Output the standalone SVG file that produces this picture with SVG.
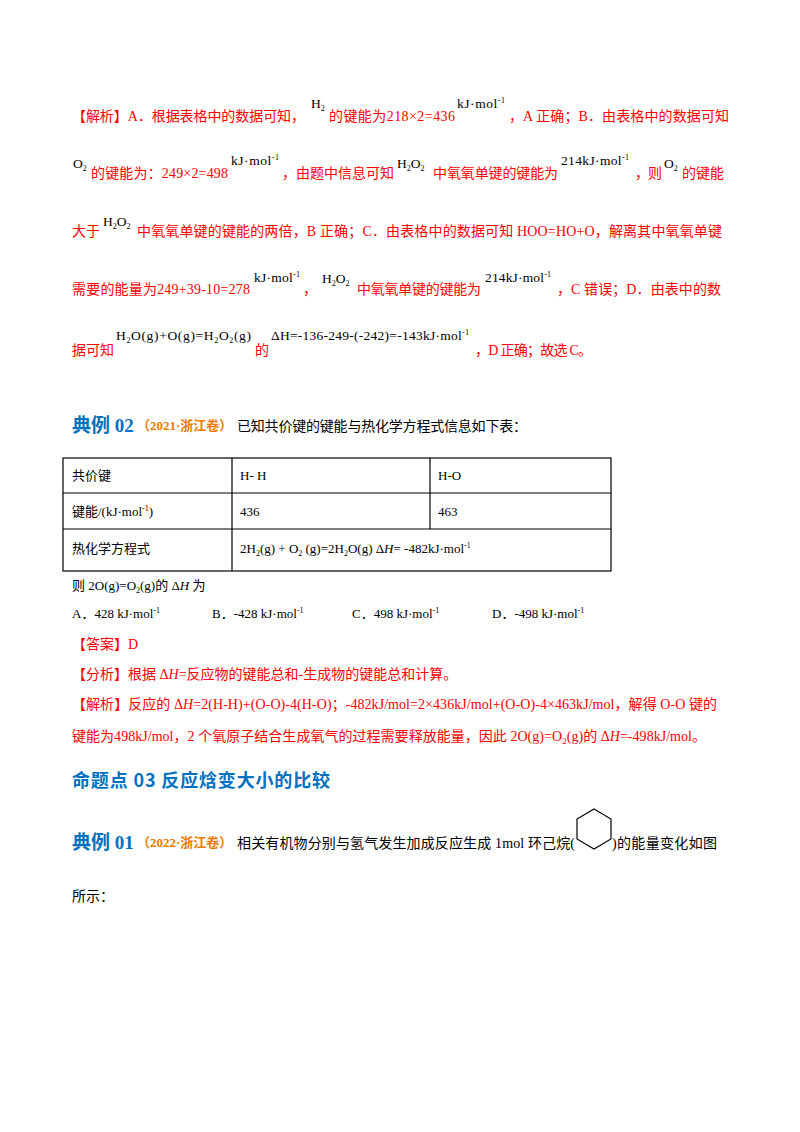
<svg xmlns="http://www.w3.org/2000/svg" width="800" height="1132" viewBox="0 0 800 1132">
<style>
text{font-family:"Liberation Serif","Noto Sans CJK SC",serif;font-size:14px;fill:#000}
.r{fill:#ff0000}
.s{font-size:13.5px}
.b{fill:#0070c0;font-weight:bold;font-size:19px}
.o{fill:#f07800;font-weight:bold;font-size:13px}
.m{font-size:13px}
.h{font-family:"Noto Sans CJK SC",sans-serif;font-size:18px;font-weight:bold;fill:#0070c0}
.t{fill:none;stroke:#000;stroke-width:1.2}
</style>
<rect width="800" height="1132" fill="#fff"/>
<g id="analysis1">
<text class="r" x="72" y="121" textLength="233">【解析】A．根据表格中的数据可知，</text>
<text x="311" y="108" class="s">H<tspan dy="3" font-size="8">2</tspan></text>
<text class="r" x="329" y="121" textLength="126">的键能为218×2=436</text>
<text x="457" y="108" class="s" textLength="48">kJ·mol<tspan dy="-5" font-size="8">-1</tspan></text>
<text class="r" x="509" y="121" textLength="220">，A 正确；B．由表格中的数据可知</text>
<text x="73" y="168" class="s">O<tspan dy="3" font-size="8">2</tspan></text>
<text class="r" x="91" y="178" textLength="137">的键能为：249×2=498</text>
<text x="231" y="165" class="s" textLength="48">kJ·mol<tspan dy="-5" font-size="8">-1</tspan></text>
<text class="r" x="282" y="178" textLength="112">，由题中信息可知</text>
<text x="397" y="168" class="s">H<tspan dy="3" font-size="8">2</tspan><tspan dy="-3">O</tspan><tspan dy="3" font-size="8">2</tspan></text>
<text class="r" x="433" y="178" textLength="125">中氧氧单键的键能为</text>
<text x="561" y="165" class="s" textLength="68">214kJ·mol<tspan dy="-5" font-size="8">-1</tspan></text>
<text class="r" x="635" y="178" textLength="27">，则</text>
<text x="664" y="168" class="s">O<tspan dy="3" font-size="8">2</tspan></text>
<text class="r" x="682" y="178" textLength="42">的键能</text>
<text class="r" x="72" y="236" textLength="28">大于</text>
<text x="103" y="226" class="s">H<tspan dy="3" font-size="8">2</tspan><tspan dy="-3">O</tspan><tspan dy="3" font-size="8">2</tspan></text>
<text class="r" x="137" y="236" textLength="585">中氧氧单键的键能的两倍，B 正确；C．由表格中的数据可知 HOO=HO+O，解离其中氧氧单键</text>
<text class="r" x="72" y="294" textLength="178">需要的能量为249+39-10=278</text>
<text x="254" y="282" class="s" textLength="46">kJ·mol<tspan dy="-5" font-size="8">-1</tspan></text>
<text class="r" x="303" y="294">，</text>
<text x="322" y="283" class="s">H<tspan dy="3" font-size="8">2</tspan><tspan dy="-3">O</tspan><tspan dy="3" font-size="8">2</tspan></text>
<text class="r" x="357" y="294" textLength="124">中氧氧单键的键能为</text>
<text x="485" y="282" class="s" textLength="66">214kJ·mol<tspan dy="-5" font-size="8">-1</tspan></text>
<text class="r" x="557" y="294" textLength="164">，C 错误；D．由表中的数</text>
<text class="r" x="72" y="355" textLength="42">据可知</text>
<text x="116" y="340" class="s" textLength="135">H<tspan dy="3" font-size="8">2</tspan><tspan dy="-3">O(g)+O(g)=H</tspan><tspan dy="3" font-size="8">2</tspan><tspan dy="-3">O</tspan><tspan dy="3" font-size="8">2</tspan><tspan dy="-3">(g)</tspan></text>
<text class="r" x="255" y="355">的</text>
<text x="271" y="340" class="s" textLength="198">ΔH=-136-249-(-242)=-143kJ·mol<tspan dy="-5" font-size="8">-1</tspan></text>
<text class="r" x="475" y="355" textLength="117">，D 正确；故选 C。</text>
</g>
<g id="example02">
<text x="72" y="432" class="b">典例 02</text>
<text x="137" y="430" class="o">（2021·浙江卷）</text>
<text x="237" y="431" textLength="290">已知共价键的键能与热化学方程式信息如下表：</text>
</g>
<g id="table">
<rect class="t" x="63" y="458" width="548" height="113"/>
<line class="t" x1="63" y1="493" x2="611" y2="493"/>
<line class="t" x1="63" y1="529" x2="611" y2="529"/>
<line class="t" x1="232" y1="458" x2="232" y2="571"/>
<line class="t" x1="430" y1="458" x2="430" y2="529"/>
<text x="72" y="480" class="m">共价键</text>
<text x="240" y="480" class="m">H- H</text>
<text x="438" y="480" class="m">H-O</text>
<text x="72" y="516" class="m">键能/(kJ·mol<tspan dy="-5" font-size="8">-1</tspan><tspan dy="5">)</tspan></text>
<text x="240" y="516" class="m">436</text>
<text x="438" y="516" class="m">463</text>
<text x="72" y="553" class="m">热化学方程式</text>
<text x="240" y="553" class="m">2H<tspan dy="3" font-size="8">2</tspan><tspan dy="-3">(g) + O</tspan><tspan dy="3" font-size="8">2</tspan><tspan dy="-3">  (g)=2H</tspan><tspan dy="3" font-size="8">2</tspan><tspan dy="-3">O(g)  Δ</tspan><tspan font-style="italic">H</tspan>= -482kJ·mol<tspan dy="-5" font-size="8">-1</tspan></text>
</g>
<g id="question">
<text x="72" y="590" class="m">则 2O(g)=O<tspan dy="3" font-size="8">2</tspan><tspan dy="-3">(g)的 Δ</tspan><tspan font-style="italic">H</tspan> 为</text>
<text x="72" y="618" class="m">A．428 kJ·mol<tspan dy="-5" font-size="8">-1</tspan></text>
<text x="212" y="618" class="m">B．-428 kJ·mol<tspan dy="-5" font-size="8">-1</tspan></text>
<text x="352" y="618" class="m">C．498 kJ·mol<tspan dy="-5" font-size="8">-1</tspan></text>
<text x="492" y="618" class="m">D．-498 kJ·mol<tspan dy="-5" font-size="8">-1</tspan></text>
<text class="r" x="72" y="649">【答案】D</text>
<text class="r" x="72" y="679">【分析】根据 Δ<tspan font-style="italic">H</tspan>=反应物的键能总和-生成物的键能总和计算。</text>
<text class="r" x="72" y="709" textLength="645">【解析】反应的 Δ<tspan font-style="italic">H</tspan>=2(H-H)+(O-O)-4(H-O)；-482kJ/mol=2×436kJ/mol+(O-O)-4×463kJ/mol，解得 O-O 键的</text>
<text class="r" x="72" y="741" textLength="634">键能为498kJ/mol，2 个氧原子结合生成氧气的过程需要释放能量，因此 2O(g)=O<tspan dy="3" font-size="9">2</tspan><tspan dy="-3">(g)的 Δ</tspan><tspan font-style="italic">H</tspan>=-498kJ/mol。</text>
</g>
<g id="section03">
<text class="h" x="72" y="787" textLength="258">命题点 03  反应焓变大小的比较</text>
</g>
<g id="example01">
<text x="72" y="849" class="b">典例 01</text>
<text x="137" y="847" class="o">（2022·浙江卷）</text>
<text x="237" y="848" textLength="338">相关有机物分别与氢气发生加成反应生成 1mol 环己烷(</text>
<polygon points="594,809 611,819 611,839 594,849 577,839 577,819" fill="none" stroke="#000" stroke-width="1.2"/>
<text x="612" y="848" textLength="105">)的能量变化如图</text>
<text x="72" y="901">所示：</text>
</g>
</svg>
